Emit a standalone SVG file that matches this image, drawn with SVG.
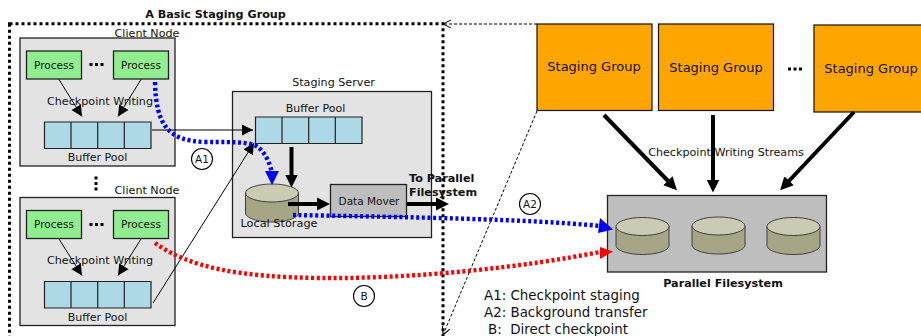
<svg xmlns="http://www.w3.org/2000/svg" width="921" height="336" viewBox="0 0 921 336">
<style>
text{font-family:"DejaVu Sans",sans-serif;fill:#111}
.t11{font-size:11.15px}.t10{font-size:10.5px}.t105{font-size:11px}
.b{font-weight:bold;font-size:11.2px}
.sgt{font-size:13px}
.node{fill:#e3e3e3;stroke:#222;stroke-width:1.3}
.proc{fill:#90ee90;stroke:#222;stroke-width:1.3}
.buf{fill:#add8e6;stroke:#222;stroke-width:1.2}
.sg{fill:#ffa500;stroke:#111;stroke-width:1.2}
.thin{fill:none;stroke:#000;stroke-width:1}
.thick{fill:none;stroke:#000;stroke-width:4}
.blue{fill:none;stroke:#00f;stroke-width:4.4;stroke-dasharray:3 2.6}
.red{fill:none;stroke:#f00;stroke-width:4.4;stroke-dasharray:3 2.6}
.side{fill:#a6a585;stroke:#333;stroke-width:.9}
.top{fill:#cbcab2;stroke:#333;stroke-width:.9}
.dots{fill:none;stroke:#000;stroke-width:3;stroke-dasharray:3 2.5}
.circ{fill:#fff;stroke:#000;stroke-width:1.1}
</style>
<defs>
<marker id="a" markerUnits="userSpaceOnUse" markerWidth="14" markerHeight="14" refX="11" refY="6" orient="auto"><path d="M0 0.500L11 6L0 11.500Z" fill="#000"/></marker>
<marker id="ab" markerUnits="userSpaceOnUse" markerWidth="16" markerHeight="16" refX="3" refY="7" orient="auto"><path d="M0 0.500L13 7L0 13.500Z" fill="#000"/></marker>
<marker id="o" markerUnits="userSpaceOnUse" markerWidth="10" markerHeight="10" refX="8" refY="4" orient="auto"><path d="M0 0L8 4L0 8" fill="none" stroke="#000"/></marker>
</defs>

<g id="staging-group-frame">
<rect x="9.500" y="23.700" width="433.500" height="330" fill="none" stroke="#000" stroke-width="3" stroke-dasharray="3 3"/>
<text x="215.500" y="17.500" class="b" text-anchor="middle">A Basic Staging Group</text>
</g>

<g id="client-node-1">
<rect class="node" x="20" y="38" width="155" height="128"/>
<text class="t11" x="147" y="37" text-anchor="middle">Client Node</text>
<rect class="proc" x="26.500" y="51" width="55" height="28"/><text class="t10" x="54" y="68.500" text-anchor="middle">Process</text>
<rect class="proc" x="113.500" y="51" width="55" height="28"/><text class="t10" x="141" y="68.500" text-anchor="middle">Process</text>
<path class="dots" d="M89.500 64.500H104"/>
<text class="t11" x="100" y="105" text-anchor="middle">Checkpoint Writing</text>
<path class="buf" d="M44.500 122h106.500v26.500H44.500z M71 122v26.500 M97.700 122v26.500 M124.300 122v26.500"/>
<text class="t105" x="97.500" y="161" text-anchor="middle">Buffer Pool</text>
</g>

<path class="dots" d="M96 176.500V193"/>

<g id="client-node-2">
<rect class="node" x="20" y="197.500" width="155" height="128"/>
<text class="t11" x="147" y="194" text-anchor="middle">Client Node</text>
<rect class="proc" x="26.500" y="210.500" width="55" height="28"/><text class="t10" x="54" y="228" text-anchor="middle">Process</text>
<rect class="proc" x="113.500" y="210.500" width="55" height="28"/><text class="t10" x="141" y="228" text-anchor="middle">Process</text>
<path class="dots" d="M89.500 224.500H104"/>
<text class="t11" x="100" y="264" text-anchor="middle">Checkpoint Writing</text>
<path class="buf" d="M44.500 281.500h106.500v26.500H44.500z M71 281.500v26.500 M97.700 281.500v26.500 M124.300 281.500v26.500"/>
<text class="t105" x="97.500" y="321" text-anchor="middle">Buffer Pool</text>
</g>

<g id="staging-server">
<rect class="node" x="232.500" y="91.500" width="199" height="146"/>
<text class="t11" x="333.500" y="86" text-anchor="middle">Staging Server</text>
<text class="t105" x="315.500" y="112" text-anchor="middle">Buffer Pool</text>
<path class="buf" d="M255.500 117h106.500v26.500H255.500z M282 117v26.500 M308.700 117v26.500 M335.300 117v26.500"/>
</g>
<g id="local-storage">
<path class="side" d="M245.500 193v20c0 5 12 9 26.500 9s26.500-4 26.500-9v-20z"/>
<ellipse class="top" cx="272" cy="193" rx="26.500" ry="9"/>
<text x="279" y="227" font-size="11.300" text-anchor="middle">Local Storage</text>
</g>
<g id="data-mover">
<rect x="330.500" y="184.500" width="76" height="32" fill="#bebebe" stroke="#222" stroke-width="1.300"/>
<text class="t10" x="369" y="204.500" text-anchor="middle">Data Mover</text>
</g>
<g id="to-pfs-label">
<text class="b" x="409" y="182">To Parallel</text>
<text class="b" x="409" y="196">Filesystem</text>
</g>

<g id="staging-group-1"><rect class="sg" x="537" y="24" width="115" height="86.500"/><text class="sgt" x="594" y="71" text-anchor="middle">Staging Group</text></g>
<g id="staging-group-2"><rect class="sg" x="658.500" y="24" width="115" height="86.500"/><text class="sgt" x="716" y="72" text-anchor="middle">Staging Group</text></g>
<path class="dots" d="M788 69H803"/>
<g id="staging-group-3"><rect class="sg" x="814" y="25" width="115" height="87"/><text class="sgt" x="871" y="73" text-anchor="middle">Staging Group</text></g>

<g id="parallel-filesystem">
<rect x="607.500" y="195.500" width="219" height="76.500" fill="#bebebe" stroke="#222" stroke-width="1.300"/>
<path class="side" d="M616 226.500v19c0 5 12 9 26.500 9s26.500-4 26.500-9v-19z"/><ellipse class="top" cx="642.500" cy="226.500" rx="26.500" ry="9"/>
<path class="side" d="M692 226v19c0 5 12 9 26.500 9s26.500-4 26.500-9v-19z"/><ellipse class="top" cx="718.500" cy="226" rx="26.500" ry="9"/>
<path class="side" d="M767 226.500v19c0 5 12 9 26.500 9s26.500-4 26.500-9v-19z"/><ellipse class="top" cx="793.500" cy="226.500" rx="26.500" ry="9"/>
<text class="b" x="723" y="287" text-anchor="middle">Parallel Filesystem</text>
</g>

<g id="connectors">
<path class="thin" d="M59 79.500L82 116.500" marker-end="url(#a)"/>
<path class="thin" d="M141 79.500L118 116.500" marker-end="url(#a)"/>
<path class="thin" d="M59 239L82 275.500" marker-end="url(#a)"/>
<path class="thin" d="M141 239L118 275.500" marker-end="url(#a)"/>
<path class="thin" d="M152 130H253" marker-end="url(#a)"/>
<path class="thin" d="M153 303L254 143" marker-end="url(#a)"/>
<path class="thick" d="M291.500 147V177.500" marker-end="url(#ab)"/>
<path class="thick" d="M288 204H320" marker-end="url(#ab)"/>
<path class="thick" d="M407 204H439" marker-end="url(#ab)"/>
<path class="thick" d="M604 115L670 183" marker-end="url(#ab)"/>
<path class="thick" d="M713 115V182.500" marker-end="url(#ab)"/>
<path class="thick" d="M854 112L787 183" marker-end="url(#ab)"/>
<path class="blue" d="M155 82C156 125 168 141 205 142C240 142 252 142 259 148C266 154 270 164 272 173" />
<path d="M265 171H279L272 185Z" fill="#00f"/>
<path class="blue" d="M293 215C400 217 530 219 600 226"/>
<path d="M600 218L613 229.500L598 233Z" fill="#00f"/>
<path class="red" d="M155 243C190 268 240 277 320 278C420 279 530 266 600 252"/>
<path d="M600 247L613 251.500L600 259Z" fill="#f00"/>
<path fill="none" stroke="#000" stroke-dasharray="3 2" d="M537 24H443" marker-end="url(#o)"/>
<path fill="none" stroke="#000" stroke-dasharray="3 2" d="M537 111L443 335" marker-end="url(#o)"/>
</g>

<g id="callouts">
<circle class="circ" cx="202" cy="159" r="10.500"/><text class="t10" x="202" y="163" text-anchor="middle">A1</text>
<circle class="circ" cx="530" cy="204" r="10.500"/><text class="t10" x="530" y="208" text-anchor="middle">A2</text>
<circle class="circ" cx="364" cy="296" r="10.500"/><text class="t10" x="364" y="300" text-anchor="middle">B</text>
<text class="t11" x="726" y="156" text-anchor="middle">Checkpoint Writing Streams</text>
</g>

<g id="legend">
<text x="484" y="300" font-size="13.400">A1: Checkpoint staging</text>
<text x="484" y="317" font-size="13.400">A2: Background transfer</text>
<text x="488" y="334" font-size="13.400" xml:space="preserve">B:  Direct checkpoint</text>
</g>
</svg>
